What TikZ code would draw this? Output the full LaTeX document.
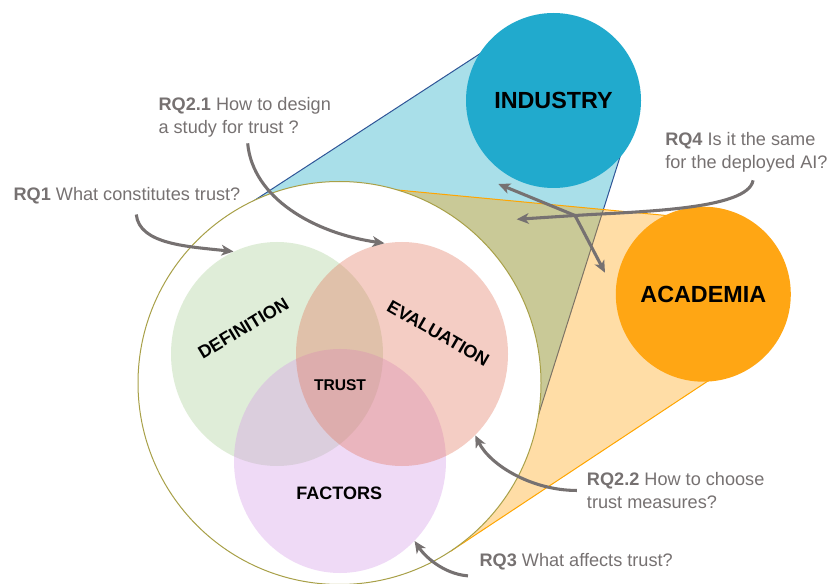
\documentclass[tikz,border=0pt]{standalone}
\usepackage{fontspec}
\setmainfont{Liberation Sans}
\usetikzlibrary{arrows.meta,shapes.geometric}

\definecolor{rqgrey}{RGB}{118,113,113}
\definecolor{industryblue}{RGB}{33,170,205}
\definecolor{conelightblue}{RGB}{169,223,233}
\definecolor{conelineblue}{RGB}{47,85,151}
\definecolor{academiaorange}{RGB}{255,166,20}
\definecolor{conelineorange}{RGB}{255,165,0}
\definecolor{rimolive}{RGB}{168,160,72}
\definecolor{defgreen}{RGB}{166,206,144}
\definecolor{evalpink}{RGB}{226,112,86}
\definecolor{factlilac}{RGB}{212,149,232}

\begin{document}
\begin{tikzpicture}[x=0.75pt,y=-0.75pt,
    rq/.style={draw=none,anchor=base west,align=left,inner sep=0pt,text=rqgrey,font=\fontsize{13.6}{17}\selectfont},
    rqarrow/.style={draw=rqgrey,line width=2.3pt,-{Stealth[length=9pt,width=8pt,inset=2.5pt]}},
    venn/.style={ellipse,draw=none,inner sep=0pt,minimum width=159pt,minimum height=168pt,fill opacity=0.35},
    word/.style={draw=none,font=\fontsize{13.5}{16}\selectfont\bfseries},
    bigword/.style={circle,draw=none,inner sep=0pt,minimum size=131.25pt,font=\fontsize{17.5}{20}\selectfont\bfseries}]

\useasboundingbox (0,0) rectangle (828,584);

% cone towards industry
\fill[conelightblue] (248.3,204.4) -- (490,47.2) -- (553.5,100.5) -- (622.2,150) -- (536.4,421.4) -- (339.5,383) -- cycle;
\draw[conelineblue,line width=0.75pt] (248.3,204.4) -- (490,47.2);
\draw[conelineblue,line width=0.75pt] (622.2,150) -- (536.4,421.4);

% cone towards academia
\fill[academiaorange,fill opacity=0.38] (386.7,189) -- (680,216.8) -- (703.3,294.2) -- (720,373) -- (450.7,551.2) -- (339.5,383) -- cycle;
\draw[conelineorange,line width=0.75pt] (386.7,189) -- (680,216.8);
\draw[conelineorange,line width=0.75pt] (450.7,551.2) -- (720,373);

% the big circle
\node [circle,draw=rimolive,line width=0.75pt,fill=white,minimum size=302.25pt,inner sep=0pt] (field) at (339.5,383) {};

% three sets
\foreach \Name/\X/\Y/\Col in {definition/277/354/defgreen, factors/340/461/factlilac, evaluation/402/354/evalpink}{
    \node [venn,fill=\Col] (\Name) at (\X,\Y) {};
}

\node [word,rotate=31] (deflabel) at (243.3,328.3) {DEFINITION};
\node [word,rotate=-30] (evallabel) at (438.3,333.3) {EVALUATION};
\node [word] (factlabel) at (339.3,493) {FACTORS};
\node [draw=none,font=\fontsize{11.7}{14}\selectfont\bfseries] (trust) at (340,385.3) {TRUST};

\node [bigword,fill=industryblue] (industry) at (553.5,100.5) {INDUSTRY};
\node [bigword,fill=academiaorange] (academia) at (703.3,294.2) {ACADEMIA};

% research questions (base = last line)
\node [rq] (rq21) at (158.3,133.3) {\textbf{RQ2.1} How to design\\a study for trust ?};
\node [rq] (rq1) at (13.3,200.7) {\textbf{RQ1} What constitutes trust?};
\node [rq] (rq4) at (665,168.3) {\textbf{RQ4} Is it the same\\for the deployed AI?};
\node [rq] (rq22) at (586.7,508.3) {\textbf{RQ2.2} How to choose\\trust measures?};
\node [rq] (rq3) at (479.3,566.7) {\textbf{RQ3} What affects trust?};

\coordinate (rq4hub) at (575,215.5);
\coordinate (rq4tip) at (516.7,219.3);
\coordinate (indtip) at (498.3,184);
\coordinate (acadtip) at (605,272.7);

\draw[rqarrow] ([xshift=7pt,yshift=-7.5pt]rq1.south) .. controls +(3,30) and +(-45,-5) .. (definition.113);
\draw[rqarrow] ([xshift=2.2pt,yshift=-4.5pt]rq21.south) .. controls +(5,55) and +(-70,-10) .. (evaluation.99);
\draw[rqarrow] ([xshift=-7.3pt]rq22.west) .. controls +(-45,0) and +(15,30) .. (evaluation.-48);
\draw[rqarrow] ([xshift=-8.5pt,yshift=-4pt]rq3.south west) .. controls +(-25,-2) and +(10,15) .. (factors.-47);
\draw[rqarrow] ([xshift=5pt,yshift=-6pt]rq4.south) .. controls +(-5,30) and +(60,-4) .. (rq4hub) -- (rq4tip);
\draw[rqarrow] (rq4hub) -- (indtip);
\draw[rqarrow] (rq4hub) -- (acadtip);

\end{tikzpicture}
\end{document}
